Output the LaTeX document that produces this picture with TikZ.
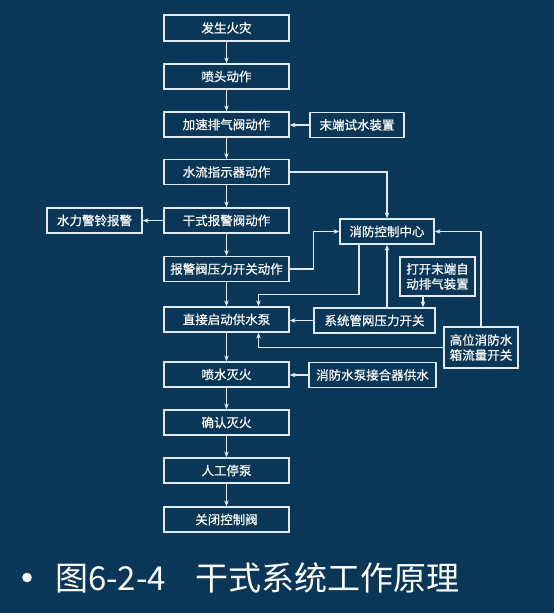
\documentclass[tikz,border=0pt]{standalone}
\usepackage{fontspec}
\setmainfont{Noto Sans CJK SC}
\newfontfamily\boxfont[FakeBold=0.6]{Noto Sans CJK SC}
\usetikzlibrary{arrows.meta}
\definecolor{bg}{RGB}{10,55,87}
\definecolor{ln}{RGB}{226,233,238}
\begin{document}
\begin{tikzpicture}[x=1pt,y=-1pt,
  box/.style={draw=ln, line width=1.2pt, text=white, font=\boxfont\fontsize{12.5}{15}\selectfont, inner sep=0pt, minimum height=25pt, align=center},
  arr/.style={draw=ln, line width=1.1pt, -{Stealth[length=6pt,width=4.5pt]}}]
\fill[bg] (0,0) rectangle (554,613);
\useasboundingbox (0,0) rectangle (554,613);
% main column
\node[box, minimum width=125pt, minimum height=26pt] (n1) at (226.5,28) {发生火灾};
\node[box, minimum width=125pt] (n2) at (226.5,76.5) {喷头动作};
\node[box, minimum width=125pt] (n3) at (226.5,124.5) {加速排气阀动作};
\node[box, minimum width=125pt] (n4) at (226.5,172) {水流指示器动作};
\node[box, minimum width=125pt] (n5) at (226.5,220.5) {干式报警阀动作};
\node[box, minimum width=125pt] (n6) at (226.5,269) {报警阀压力开关动作};
\node[box, minimum width=125pt] (pump) at (226.5,319.5) {直接启动供水泵};
\node[box, minimum width=125pt] (spray) at (226.5,374.5) {喷水灭火};
\node[box, minimum width=125pt] (n9) at (226.5,422.5) {确认灭火};
\node[box, minimum width=125pt] (n10) at (226.5,470.5) {人工停泵};
\node[box, minimum width=125pt] (n11) at (226.5,519.5) {关闭控制阀};
% side boxes
\node[box, minimum width=94pt] (tail) at (357,125) {末端试水装置};
\node[box, minimum width=95pt] (bell) at (94.5,220.5) {水力警铃报警};
\node[box, minimum width=94pt] (ctrl) at (387,231.5) {消防控制中心};
\node[box, minimum width=75pt, minimum height=39pt] (vent) at (437.5,276.5) {打开末端自\\动排气装置};
\node[box, minimum width=121pt] (sys) at (374.5,320.5) {系统管网压力开关};
\node[box, minimum width=74pt, minimum height=41pt] (tank) at (481,347.5) {高位消防水\\箱流量开关};
\node[box, minimum width=127pt] (adapter) at (372.5,375) {消防水泵接合器供水};
% main flow
\draw[arr] (n1) -- (n2);
\draw[arr] (n2) -- (n3);
\draw[arr] (n3) -- (n4);
\draw[arr] (n4) -- (n5);
\draw[arr] (n5) -- (n6);
\draw[arr] (n6) -- (pump);
\draw[arr] (pump) -- (spray);
\draw[arr] (spray) -- (n9);
\draw[arr] (n9) -- (n10);
\draw[arr] (n10) -- (n11);
% side connectors
\draw[arr] (tail.west) -- (tail.west -| n3.east);
\draw[arr] (n5.west) -- (bell.east);
\draw[arr] (n4.east) -| (ctrl.north);
\draw[arr] (n6.east) -- ++(24,0) |- (ctrl.west);
\draw[arr] ([xshift=-28pt]ctrl.south) -- ++(0,50) -| ([xshift=32pt]pump.north);
\draw[arr] (ctrl.south |- sys.north) -- (ctrl.south);
\draw[arr] ([xshift=-14.5pt]vent.south) -- ([xshift=-14.5pt]vent.south |- sys.north);
\draw[arr] (sys.west) -- (sys.west -| pump.east);
\draw[arr] (tank.north) |- (ctrl.east);
\draw[arr] (tank.west) -| ([xshift=32pt]pump.south);
\draw[arr] (adapter.west) -- (adapter.west -| spray.east);
% caption
\fill[white] (27,577.5) circle (4.8);
\node[anchor=base west, text=white, font=\fontsize{33}{36}\selectfont, inner sep=0pt] (cap) at (55,590) {图6-2-4\hspace{0.9em}干式系统工作原理};
\end{tikzpicture}
\end{document}
